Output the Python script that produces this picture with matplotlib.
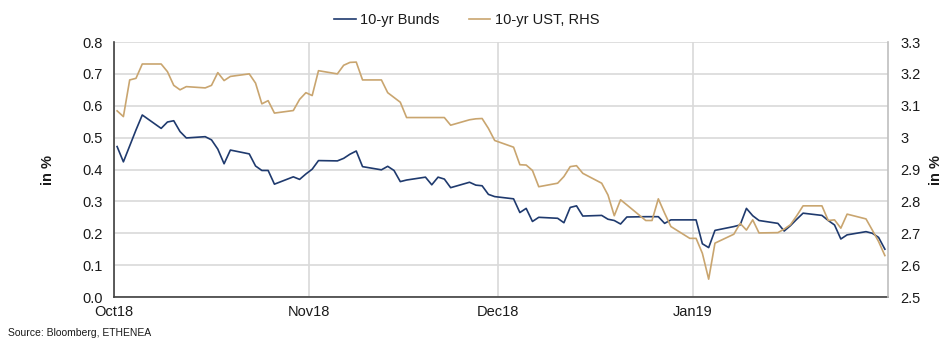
import matplotlib
matplotlib.use("Agg")
import matplotlib.pyplot as plt
import pandas as pd
from matplotlib.ticker import FuncFormatter

plt.rcParams['font.family'] = ['Liberation Sans', 'DejaVu Sans']

# business days, Oct 2018 - Jan 2019
dates = pd.bdate_range('2018-10-01', '2019-01-31')

bunds = [
    # Oct
    0.472, 0.424, 0.474, 0.524, 0.571, 0.529, 0.549, 0.553, 0.519, 0.499,
    0.503, 0.493, 0.464, 0.418, 0.461, 0.449, 0.411, 0.397, 0.397, 0.354,
    0.377, 0.369, 0.386,
    # Nov
    0.401, 0.428, 0.427, 0.435, 0.448, 0.458, 0.409, 0.399, 0.410, 0.397,
    0.362, 0.367, 0.376, 0.352, 0.376, 0.370, 0.343, 0.360, 0.351, 0.349,
    0.322, 0.315,
    # Dec
    0.308, 0.265, 0.278, 0.237, 0.250, 0.247, 0.233, 0.281, 0.286, 0.254,
    0.256, 0.244, 0.240, 0.229, 0.251, 0.252, 0.252, 0.252, 0.231, 0.242,
    0.242,
    # Jan
    0.242, 0.167, 0.155, 0.209, 0.221, 0.226, 0.278, 0.255, 0.240, 0.231,
    0.207, 0.224, 0.244, 0.263, 0.256, 0.240, 0.226, 0.182, 0.195, 0.205,
    0.200, 0.187, 0.150,
]

ust = [
    # Oct
    3.084, 3.066, 3.181, 3.186, 3.231, 3.231, 3.207, 3.164, 3.150, 3.160,
    3.156, 3.164, 3.204, 3.179, 3.192, 3.200, 3.171, 3.106, 3.116, 3.077,
    3.085, 3.120, 3.141,
    # Nov
    3.132, 3.210, 3.200, 3.227, 3.236, 3.237, 3.181, 3.181, 3.141, 3.126,
    3.111, 3.063, 3.063, 3.063, 3.063, 3.063, 3.039, 3.056, 3.059, 3.060,
    3.029, 2.991,
    # Dec
    2.970, 2.915, 2.914, 2.897, 2.846, 2.857, 2.878, 2.909, 2.912, 2.888,
    2.857, 2.820, 2.755, 2.805, 2.789, 2.740, 2.740, 2.808, 2.763, 2.721,
    2.684,
    # Jan
    2.684, 2.637, 2.556, 2.669, 2.697, 2.731, 2.710, 2.742, 2.701, 2.702,
    2.713, 2.727, 2.755, 2.786, 2.786, 2.740, 2.742, 2.716, 2.760, 2.745,
    2.710, 2.674, 2.630,
]

month_starts = pd.to_datetime(['2018-10-01', '2018-11-01', '2018-12-01', '2019-01-01'])
month_labels = ['Oct18', 'Nov18', 'Dec18', 'Jan19']

navy = '#1f3a6e'
tan = '#c9a56f'
grid_c = '#d9d9d9'
txt = '#1a1a1a'
half_day = pd.Timedelta(hours=12)

fig = plt.figure(figsize=(9.52, 3.46), dpi=100)
ax = fig.add_axes([0.1197, 0.1416, 0.8131, 0.737])
ax2 = ax.twinx()

l1, = ax.plot(dates, bunds, color=navy, lw=1.2, label='10-yr Bunds', zorder=3)
l2, = ax2.plot(dates, ust, color=tan, lw=1.2, label='10-yr UST, RHS', zorder=3)

ax.set_xlim(dates[0] - half_day, dates[-1] + half_day)
ax.set_ylim(0, 0.8)
ax2.set_ylim(2.5, 3.3)

ax.set_yticks([i / 10 for i in range(9)])
ax2.set_yticks([2.5 + i / 10 for i in range(9)])
ax.yaxis.set_major_formatter(FuncFormatter(lambda v, p: f'{v:.1f}'))
ax2.yaxis.set_major_formatter(FuncFormatter(lambda v, p: f'{v:g}' if abs(v - 3) < 1e-9 else f'{v:.1f}'))

ax.set_xticks(month_starts - half_day)
ax.set_xticklabels(month_labels)

ax.grid(True, axis='both', color=grid_c, lw=1.2, zorder=0)
ax.set_axisbelow(True)

for a in (ax, ax2):
    a.tick_params(length=0, labelsize=10.5, colors=txt)
    a.spines['top'].set_visible(False)
ax.tick_params(axis='x', pad=6)
ax.tick_params(axis='y', pad=8)
ax2.tick_params(axis='y', pad=9)

ax.spines['left'].set_color('#404040')
ax.spines['left'].set_linewidth(1.2)
ax.spines['bottom'].set_color('#404040')
ax.spines['bottom'].set_linewidth(1.2)
ax.spines['right'].set_visible(False)
ax2.spines['left'].set_visible(False)
ax2.spines['bottom'].set_visible(False)
ax2.spines['right'].set_color('#bfbfbf')
ax2.spines['right'].set_linewidth(1.2)

ax.set_ylabel('in %', fontsize=10.5, fontweight='bold', color=txt, labelpad=20)
ax2.set_ylabel('in %', fontsize=10.5, fontweight='bold', color=txt, labelpad=6)

fig.legend(handles=[l1, l2], loc='upper center', bbox_to_anchor=(0.49, 1.0),
           ncol=2, frameon=False, fontsize=10.5, handlelength=1.5,
           handletextpad=0.3, columnspacing=2.0, labelcolor=txt)

fig.text(0.008, 0.028, 'Source: Bloomberg, ETHENEA', fontsize=7.5, color=txt)

fig.savefig('out.png', dpi=100)
